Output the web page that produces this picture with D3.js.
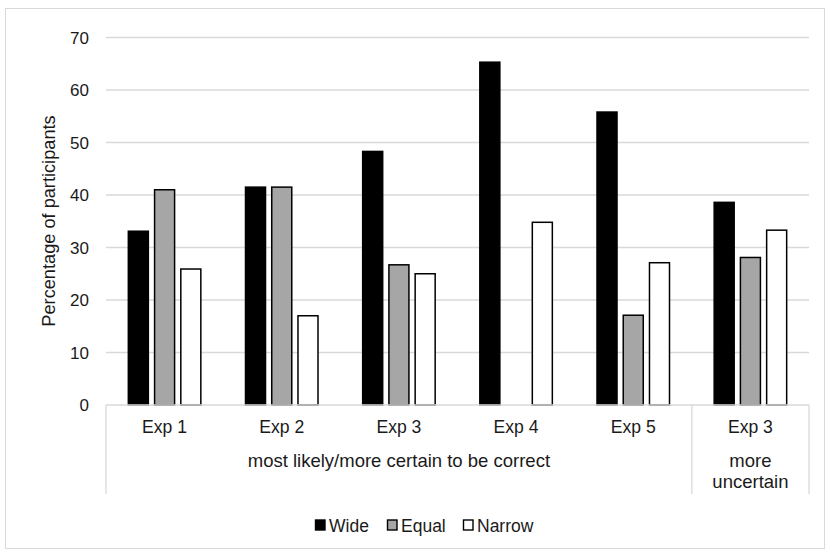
<!DOCTYPE html>
<html><head><meta charset="utf-8">
<script src="https://cdn.jsdelivr.net/npm/d3@7"></script>
<style>body{margin:0;background:#fff}svg{display:block}text{font-family:"Liberation Sans",Arial,sans-serif;fill:#1a1a1a}</style>
</head><body><svg id="c" width="830" height="556"></svg>
<script>
const categories = ["Exp 1","Exp 2","Exp 3","Exp 4","Exp 5","Exp 3"];
const series = ["Wide","Equal","Narrow"];
const wide   = [33.1, 41.5, 48.3, 65.3, 55.8, 38.6];
const equal  = [41.0, 41.5, 26.7, 0, 17.1, 28.1];
const narrow = [25.9, 17.0, 25.0, 34.8, 27.1, 33.3];
const yTicks = [0,10,20,30,40,50,60,70];
const groups = [{label:["most likely/more certain to be correct"], from:0, to:4},{label:["more","uncertain"], from:5, to:5}];
const colors = ["#000000","#a6a6a6","#ffffff"];

const svg = d3.select("#c");
svg.append("rect").attr("x",5.5).attr("y",8.5).attr("width",819).attr("height",540).attr("fill","#fff").attr("stroke","#d9d9d9");

const L=106, R=809, T=37.5, B=405;
const x = d3.scaleBand().domain(d3.range(categories.length)).range([L,R]).paddingInner(0).paddingOuter(0);
const y = d3.scaleLinear().domain([0,70]).range([B,T]);
const x1 = d3.scaleBand().domain(d3.range(3)).range([0,74]).paddingInner(0.18);

// gridlines
svg.append("g").selectAll("line").data(yTicks.filter(d=>d>0)).join("line")
  .attr("x1",L).attr("x2",R).attr("y1",d=>y(d)).attr("y2",d=>y(d)).attr("stroke","#d9d9d9").attr("stroke-width",1.3);

// y axis labels
const yAxis = d3.axisLeft(y).tickValues(yTicks).tickSize(0).tickPadding(0);
const ga = svg.append("g").attr("transform",`translate(89,0)`).call(yAxis);
ga.select(".domain").remove();
ga.selectAll("text").attr("font-size",17).attr("fill","#1a1a1a").attr("font-family","Liberation Sans, Arial, sans-serif").attr("dy","0.35em");

svg.append("text").attr("transform",`translate(55,221) rotate(-90)`).attr("text-anchor","middle").attr("font-size",18.2).text("Percentage of participants");

// bars
const data = [wide,equal,narrow];
const off = (x.bandwidth()-74)/2;
data.forEach((vals,si)=>{
  svg.append("g").selectAll("rect").data(vals).join("rect")
    .attr("x",(d,i)=>x(i)+off+x1(si)+0.75)
    .attr("y",d=>y(d))
    .attr("width",x1.bandwidth()-1.5)
    .attr("height",d=>B-y(d))
    .attr("fill",colors[si]).attr("stroke",d=>d>0?"#000":"none").attr("stroke-width",1.5);
});

// category axis lines
const ax = svg.append("g").attr("stroke","#d9d9d9").attr("stroke-width",1.3);
ax.append("line").attr("x1",L).attr("x2",R).attr("y1",B).attr("y2",B);
[L, x(5), R].forEach(v=>ax.append("line").attr("x1",v).attr("x2",v).attr("y1",B).attr("y2",494));

svg.append("g").selectAll("text").data(categories).join("text")
  .attr("x",(d,i)=>x(i)+x.bandwidth()/2).attr("y",433).attr("text-anchor","middle").attr("font-size",17.6).text(d=>d);

groups.forEach(g=>{
  const cx=(x(g.from)+x(g.to)+x.bandwidth())/2;
  g.label.forEach((t,k)=>svg.append("text").attr("x",cx).attr("y",467+k*20.5).attr("text-anchor","middle").attr("font-size",18.5).text(t));
});

// legend
const lg = svg.append("g");
const lx=[315.5,387.5,463.5];
series.forEach((s,i)=>{
  lg.append("rect").attr("x",lx[i]).attr("y",520).attr("width",9.5).attr("height",10).attr("fill",colors[i]).attr("stroke","#000").attr("stroke-width",1.4);
  lg.append("text").attr("x",lx[i]+13.5).attr("y",531.5).attr("font-size",17.5).text(s);
});
</script></body></html>
